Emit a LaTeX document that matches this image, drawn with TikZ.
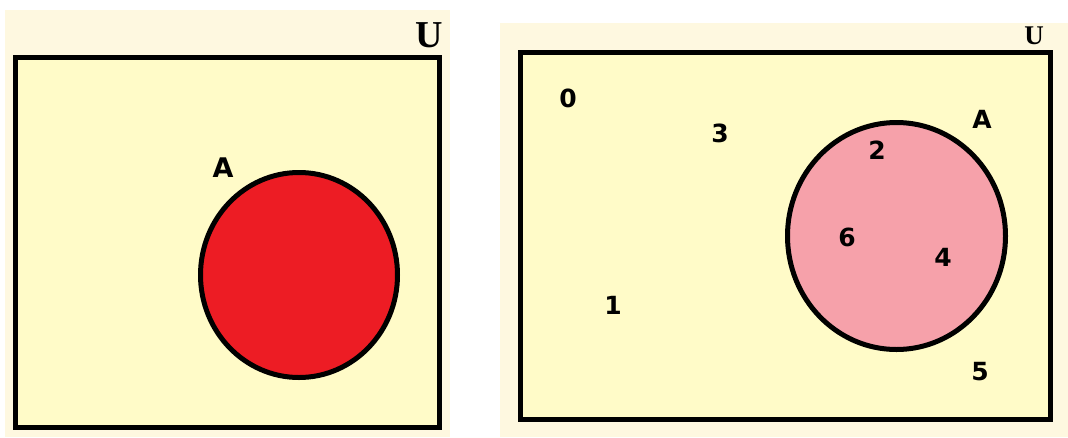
\documentclass[tikz,border=0pt]{standalone}
\usepackage{fontspec}
\setmainfont{DejaVu Sans}
\newfontfamily\userif{Liberation Serif}
\definecolor{creamout}{RGB}{254,248,224}
\definecolor{creamin}{RGB}{255,251,200}
\definecolor{setred}{RGB}{237,28,36}
\definecolor{setpink}{RGB}{246,161,170}
\tikzset{
  frame/.style={draw=black, line width=5pt, fill=creamin},
  setshape/.style={draw=black, line width=5pt},
  ulabel/.style={inner sep=0pt, font=\userif\bfseries},
  alabel/.style={inner sep=0pt, font=\fontsize{27}{27}\selectfont\bfseries},
  num/.style={inner sep=0pt, font=\fontsize{25}{25}\selectfont\bfseries},
}
\begin{document}
\begin{tikzpicture}[x=1pt,y=-1pt]
\useasboundingbox[fill=white] (0,0) rectangle (1068,437);
% left panel
\fill[creamout] (5,10) rectangle (450,437);
\draw[frame] (15.5,57.5) rectangle (439.5,427.5);
\draw[setshape, fill=setred] (299,275) ellipse [x radius=98.5, y radius=102.5];
\node[ulabel, font=\userif\bfseries\fontsize{38}{38}\selectfont] (uleft) at (429.5,35) {U};
\node[alabel] (aleft) at (223,168) {A};
% right panel
\fill[creamout] (500,23) rectangle (1068,437);
\draw[frame] (520.5,52.5) rectangle (1050.5,419.5);
\draw[setshape, fill=setpink] (896.5,236) ellipse [x radius=109, y radius=113.5];
\node[ulabel, font=\userif\bfseries\fontsize{27}{27}\selectfont] (uright) at (1034,36) {U};
\node[alabel, font=\fontsize{25}{25}\selectfont\bfseries] (aright) at (982,119) {A};
\node[num] (n0) at (568,98) {0};
\node[num] (n3) at (720,133) {3};
\node[num] (n1) at (613,305) {1};
\node[num] (n2) at (877,150) {2};
\node[num] (n6) at (847,237) {6};
\node[num] (n4) at (943,257) {4};
\node[num] (n5) at (980,372) {5};
\end{tikzpicture}
\end{document}
